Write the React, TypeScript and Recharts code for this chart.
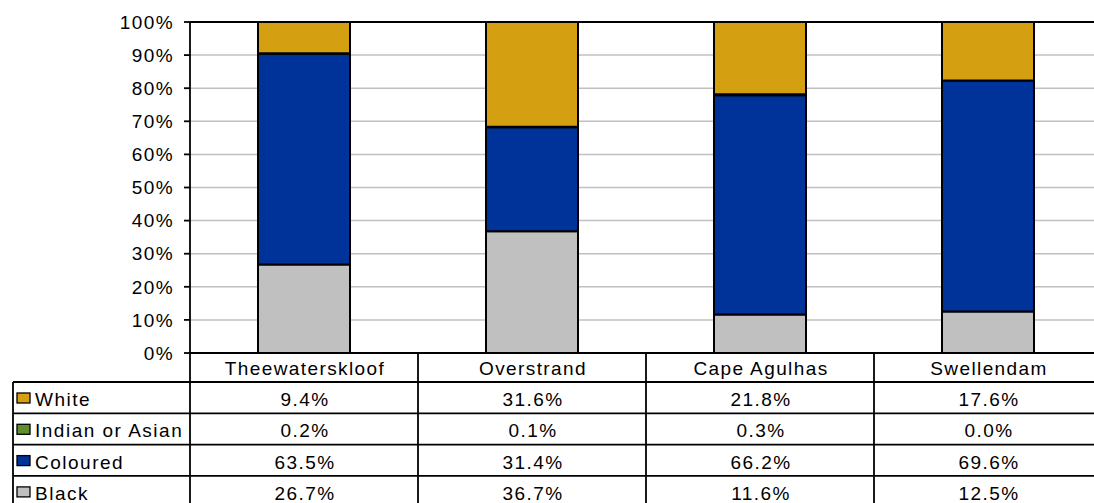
import { Bar, BarChart, CartesianGrid, ReferenceLine, XAxis, YAxis } from 'recharts'

const categories = ['Theewaterskloof', 'Overstrand', 'Cape Agulhas', 'Swellendam']
const white = [9.4, 31.6, 21.8, 17.6]
const indianAsian = [0.2, 0.1, 0.3, 0.0]
const coloured = [63.5, 31.4, 66.2, 69.6]
const black = [26.7, 36.7, 11.6, 12.5]
const yTicks = [0, 0.1, 0.2, 0.3, 0.4, 0.5, 0.6, 0.7, 0.8, 0.9, 1]

// table rows top to bottom, same order as the Excel data table
const rows = [
  { key: 'White', label: 'White', values: white, color: '#d4a012' },
  { key: 'Indian', label: 'Indian or Asian', values: indianAsian, color: '#5f8f2c' },
  { key: 'Coloured', label: 'Coloured', values: coloured, color: '#003399' },
  { key: 'Black', label: 'Black', values: black, color: '#c0c0c0' },
]

const data = categories.map((name, i) => ({
  name,
  White: white[i],
  Indian: indianAsian[i],
  Coloured: coloured[i],
  Black: black[i],
}))

const W = 1110
const H = 503
const margin = { top: 22, right: 8, left: 110, bottom: 0 }
const yAxisWidth = 80
const xAxisHeight = 150
const plotWidth = W - margin.left - margin.right - yAxisWidth
const halfBand = plotWidth / categories.length / 2

const FONT = '"Liberation Sans", Arial, sans-serif'
const FS = 19
const LS = 1.4
const LINE = 1.8
const HEADER_H = 29
const ROW_H = 31.3

function TableTick(props: any) {
  const { x, y, payload, index } = props
  const left = x - halfBand
  const right = x + halfBand
  const textProps = {
    fontFamily: FONT,
    fontSize: FS,
    letterSpacing: LS,
    fill: '#000',
  }
  const rowTop = (r: number) => y + HEADER_H + r * ROW_H
  return (
    <g>
      <text {...textProps} x={x + 1} y={y + 22} textAnchor="middle">
        {payload.value}
      </text>
      {rows.map((r, i) => (
        <text key={r.key} {...textProps} x={x + 1} y={rowTop(i) + 24} textAnchor="middle">
          {r.values[index].toFixed(1)}%
        </text>
      ))}
      {/* grid of the data table */}
      <line x1={right} x2={right} y1={y} y2={H} stroke="#000" strokeWidth={LINE} />
      {index === 0 && <line x1={left} x2={left} y1={y} y2={H} stroke="#000" strokeWidth={LINE} />}
      {rows.map((r, i) => (
        <line
          key={'h' + r.key}
          x1={index === 0 ? 13 : left}
          x2={right}
          y1={rowTop(i)}
          y2={rowTop(i)}
          stroke="#000"
          strokeWidth={LINE}
        />
      ))}
      {index === 0 && (
        <g>
          <line x1={13} x2={13} y1={rowTop(0)} y2={H} stroke="#000" strokeWidth={LINE} />
          <line x1={13} x2={right} y1={rowTop(4)} y2={rowTop(4)} stroke="#000" strokeWidth={LINE} />
          {rows.map((r, i) => (
            <g key={'lg' + r.key}>
              <rect
                x={17}
                y={rowTop(i) + 11}
                width={13}
                height={10}
                fill={r.color}
                stroke="#000"
                strokeWidth={1.3}
              />
              <text {...textProps} letterSpacing={1.5} x={35} y={rowTop(i) + 24}>
                {r.label}
              </text>
            </g>
          ))}
        </g>
      )}
    </g>
  )
}

export default function App() {
  return (
    <div
      style={{
        position: 'absolute',
        left: 0,
        top: 0,
        width: 1094,
        height: 503,
        overflow: 'hidden',
        background: '#fff',
      }}
    >
      <BarChart width={W} height={H} data={data} margin={margin} stackOffset="expand" barSize={92}>
        <CartesianGrid vertical={false} stroke="#c0c0c0" strokeWidth={1.5} />
        <ReferenceLine y={1} stroke="#000" strokeWidth={LINE} />
        <XAxis
          dataKey="name"
          height={xAxisHeight}
          interval={0}
          tickLine={false}
          tickSize={0}
          tickMargin={0}
          axisLine={{ stroke: '#000', strokeWidth: LINE }}
          tick={(p: any) => <TableTick {...p} />}
        />
        <YAxis
          width={yAxisWidth}
          domain={[0, 1]}
          ticks={yTicks}
          tickFormatter={(v: number) => `${Math.round(v * 100)}%`}
          axisLine={{ stroke: '#000', strokeWidth: LINE }}
          tickLine={{ stroke: '#000', strokeWidth: LINE }}
          tickSize={6}
          tickMargin={10}
          tick={{ fill: '#000', fontSize: FS, fontFamily: FONT, letterSpacing: LS }}
        />
        <Bar dataKey="Black" stackId="a" fill="#c0c0c0" stroke="#000" strokeWidth={2} isAnimationActive={false} />
        <Bar dataKey="Coloured" stackId="a" fill="#003399" stroke="#000" strokeWidth={2} isAnimationActive={false} />
        <Bar dataKey="Indian" stackId="a" fill="#5f8f2c" stroke="#000" strokeWidth={2} isAnimationActive={false} />
        <Bar dataKey="White" stackId="a" fill="#d4a012" stroke="#000" strokeWidth={2} isAnimationActive={false} />
      </BarChart>
    </div>
  )
}
